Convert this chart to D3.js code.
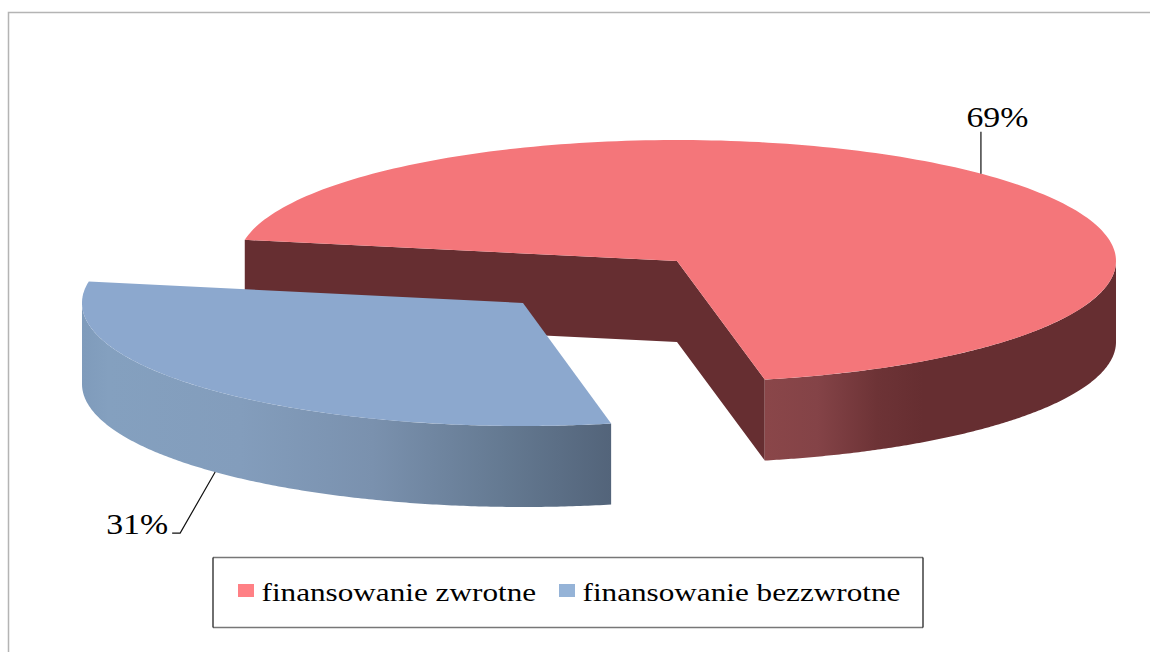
<!DOCTYPE html>
<html>
<head>
<meta charset="utf-8">
<script src="https://cdn.jsdelivr.net/npm/d3@7"></script>
<style>
  body { margin: 0; background: #fff; }
  text { font-family: "Liberation Serif", serif; fill: #000; }
</style>
</head>
<body>
<div id="chart"></div>
<script>
var categories = ["finansowanie zwrotne", "finansowanie bezzwrotne"];
var values = [69, 31];
var valueLabels = ["69%", "31%"];

var width = 1150, height = 652;
var topColor = d3.scaleOrdinal(categories, ["#f4767a", "#8ca8ce"]);
var swatchColor = d3.scaleOrdinal(categories, ["#ff8085", "#95b3d7"]);
var depth = 81;

// each slice sits on its own ellipse, the blue one is pulled out to the lower left
var centerX = d3.scaleOrdinal(categories, [677, 523]);
var centerY = d3.scaleOrdinal(categories, [261, 303]);
var radiusX = d3.scaleOrdinal(categories, [439, 441]);
var radiusY = d3.scaleOrdinal(categories, [121, 123]);

var svg = d3.select("#chart")
    .append("svg")
    .attr("width", width)
    .attr("height", height)
    .style("display", "block");

var defs = svg.append("defs");

function addGradient(id, stops, x1, x2) {
  var g = defs.append("linearGradient")
      .attr("id", id)
      .attr("gradientUnits", "userSpaceOnUse")
      .attr("x1", x1).attr("x2", x2)
      .attr("y1", 0).attr("y2", 0);
  stops.forEach(function(s) {
    g.append("stop").attr("offset", s[0]).attr("stop-color", s[1]);
  });
}
addGradient("wall0", [[0, "#8a4649"], [0.15, "#844347"], [0.32, "#6d3336"], [0.45, "#662e31"], [1, "#662e31"]], 765, 1116);
addGradient("wall1", [[0, "#7f9bbb"], [0.05, "#84a0bf"], [0.3, "#839dbc"], [0.55, "#7a91ae"], [0.8, "#647991"], [1, "#53647a"]], 82, 611);

// frame
svg.append("path")
    .attr("d", d3.line()([[8.5, height], [8.5, 12.5], [width, 12.5]]))
    .attr("fill", "none")
    .attr("stroke", "#b4b4b4")
    .attr("stroke-width", 1.5);

var slices = d3.pie().sort(null).startAngle(-1.395).endAngle(-1.395 + 2 * Math.PI)(values);

function pointOn(i, angle, drop) {
  var c = categories[i];
  return [centerX(c) + radiusX(c) * Math.sin(angle),
          centerY(c) - radiusY(c) * Math.cos(angle) + (drop || 0)];
}

function rim(i, a0, a1, drop) {
  var n = 200;
  return d3.range(n + 1).map(function(k) {
    return pointOn(i, a0 + (a1 - a0) * k / n, drop);
  });
}

var line = d3.line();
function shape(pts) { return line(pts) + "Z"; }

slices.forEach(function(s, i) {
  var c = categories[i];
  var g = svg.append("g");
  var apex = [centerX(c), centerY(c)];
  var apexLow = [apex[0], apex[1] + depth];

  // cut faces are only seen on the red slice
  if (i === 0) {
    var a = pointOn(i, s.startAngle), b = pointOn(i, s.endAngle);
    g.append("path")
        .attr("d", shape([a, apex, b, [b[0], b[1] + depth], apexLow, [a[0], a[1] + depth]]))
        .attr("fill", "#662e31");
  }

  // outer wall, front half of the ellipse only
  var w0 = Math.max(s.startAngle, Math.PI / 2);
  var w1 = Math.min(s.endAngle, 3 * Math.PI / 2);
  g.append("path")
      .attr("d", shape(rim(i, w0, w1, 0).concat(rim(i, w1, w0, depth))))
      .attr("fill", "url(#wall" + i + ")");

  // top face
  g.append("path")
      .attr("d", shape([apex].concat(rim(i, s.startAngle, s.endAngle, 0))))
      .attr("fill", topColor(c));
});

// value labels with leader lines, anchored near the middle of each slice
var mid0 = (slices[0].startAngle + slices[0].endAngle) / 2;
var mid1 = (slices[1].startAngle + slices[1].endAngle) / 2;
var p0 = pointOn(0, mid0 - 0.008);
var p1 = pointOn(1, mid1, depth);

svg.append("path")
    .attr("d", line([p0, [p0[0], p0[1] - 42]]))
    .attr("fill", "none").attr("stroke", "#111").attr("stroke-width", 1.2);
svg.append("path")
    .attr("d", line([p1, [p1[0] - 35, p1[1] + 61], [p1[0] - 43, p1[1] + 61]]))
    .attr("fill", "none").attr("stroke", "#111").attr("stroke-width", 1.2);

svg.append("text")
    .attr("transform", "translate(" + (p0[0] - 14.5) + "," + (p0[1] - 47) + ") scale(1.166,1)")
    .attr("font-size", 29)
    .text(valueLabels[0]);
svg.append("text")
    .attr("transform", "translate(" + (p1[0] - 109) + "," + (p1[1] + 62) + ") scale(1.166,1)")
    .attr("font-size", 29)
    .text(valueLabels[1]);

// legend
var legendLeft = 213, legendRight = 923, legendTop = 557.5, legendBottom = 627.5;
svg.append("path")
    .attr("d", line([[legendLeft, legendTop], [legendRight, legendTop]]) + line([[legendLeft, legendBottom], [legendRight, legendBottom]]))
    .attr("stroke", "#777").attr("stroke-width", 1.5);
svg.append("path")
    .attr("d", line([[legendLeft, legendTop], [legendLeft, legendBottom]]) + line([[legendRight, legendTop], [legendRight, legendBottom]]))
    .attr("stroke", "#111").attr("stroke-width", 1.2);

var legendX = d3.scalePoint().domain(categories).range([238, 559]);
var items = svg.selectAll(".legend-item")
    .data(categories)
    .enter()
    .append("g")
    .attr("class", "legend-item")
    .attr("transform", function(d) { return "translate(" + legendX(d) + ",0)"; });

items.append("rect")
    .attr("y", 584)
    .attr("width", 16)
    .attr("height", 13)
    .attr("fill", function(d) { return swatchColor(d); });

items.append("text")
    .attr("transform", "translate(23.5,600.5) scale(1.224,1)")
    .attr("font-size", 25.5)
    .text(function(d) { return d; });
</script>
</body>
</html>
